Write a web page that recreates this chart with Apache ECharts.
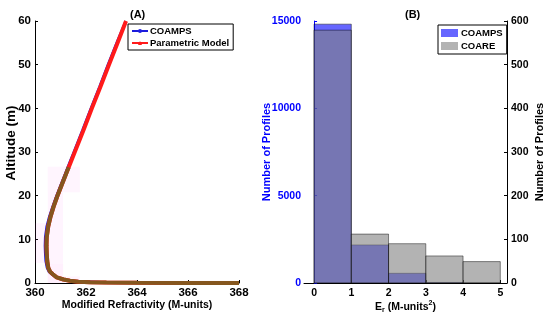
<!DOCTYPE html>
<html>
<head>
<meta charset="utf-8">
<script src="https://cdn.jsdelivr.net/npm/echarts@6/dist/echarts.min.js"></script>
<style>html,body{margin:0;padding:0;background:#fff}#c{width:550px;height:321px}</style>
</head>
<body>
<div id="c"></div>
<script>
// ---------- Panel A data ----------
var altitudeParam = [0, 0.02, 0.05, 0.1, 0.16, 0.3, 0.53, 0.8, 1.3, 2.0, 2.6, 3.5, 5, 6.8, 8.5, 10.5, 13, 15.2, 17.5, 19.8, 22.5, 25, 27.5, 30, 35, 40, 45, 50, 55, 60];
var paramM = [368.0, 366.0, 364.0, 362.8, 362.16, 361.7, 361.37, 361.12, 360.85, 360.7, 360.59, 360.52, 360.48, 360.46, 360.45, 360.46, 360.52, 360.61, 360.73, 360.87, 361.05, 361.22, 361.39, 361.56, 361.9, 362.23, 362.57, 362.9, 363.24, 363.57];
var altitudeCoamps = [0, 0.05, 0.12, 0.28, 0.53, 0.8, 1.3, 2.0, 2.6, 3.5, 5, 6.8, 8.5, 10.5, 13, 15.2, 17.5, 19.8, 22.5, 25, 27.5, 30, 35, 40, 45, 50, 55, 60];
var coampsM = [368.0, 364.0, 362.9, 362.45, 361.35, 361.08, 360.8, 360.64, 360.53, 360.46, 360.41, 360.39, 360.38, 360.39, 360.45, 360.55, 360.68, 360.82, 361.0, 361.17, 361.34, 361.51, 361.85, 362.18, 362.52, 362.85, 363.19, 363.55];
var altitudeLower = [0, 0.02, 0.05, 0.1, 0.16, 0.3, 0.53, 0.8, 1.3, 2.0, 2.6, 3.5, 5, 6.8, 8.5, 10.5, 13, 15.2, 17.5, 19.8, 22.5, 25, 26.5];
var lowerM = [368.0, 366.0, 364.0, 362.8, 362.16, 361.7, 361.37, 361.12, 360.85, 360.7, 360.59, 360.52, 360.48, 360.46, 360.45, 360.46, 360.52, 360.61, 360.73, 360.87, 361.05, 361.22, 361.32];
// density shading blocks: [M0, z0, M1, z1, strength]
var densityBlocks = [
  [360.5, 20.8, 361.76, 26.6, 0.05],
  [360.5, 4.5, 361.1, 20.8, 0.06],
  [360.0, 4.6, 360.5, 13.7, 0.06],
  [360.5, 0, 361.1, 4.5, 0.08],
  [361.1, 0, 361.76, 1.5, 0.06],
  [361.76, 0, 368, 0.6, 0.03]
];
var xTicksA = [360, 362, 364, 366, 368];

// ---------- Panel B data ----------
var binStarts = [0, 1, 2, 3, 4];
var binEnds = [1, 2, 3, 4, 5];
var coampsCounts = [14820, 2180, 555, 30, 5];
var coareCounts = [579, 112, 90, 62, 49];
var xTicksB = [0, 1, 2, 3, 4, 5];

function pairs(xs, ys) { return xs.map(function (x, i) { return [ys[i], x]; }); }
function bins(counts) { return counts.map(function (c, i) { return [binStarts[i], binEnds[i], c]; }); }

var FONT = '"Liberation Sans", Arial, Helvetica, sans-serif';

function rectRender(params, api) {
  var p0 = api.coord([api.value(0), api.value(2)]);
  var p1 = api.coord([api.value(1), 0]);
  return {
    type: 'rect',
    shape: { x: p0[0], y: p0[1], width: p1[0] - p0[0], height: p1[1] - p0[1] },
    style: api.style()
  };
}

var chart = echarts.init(document.getElementById('c'), null, { renderer: 'canvas' });
chart.setOption({
  animation: false,
  backgroundColor: '#fff',
  textStyle: { fontFamily: FONT },
  title: [
    { text: '(A)', left: 125, top: 4, textStyle: { fontFamily: FONT, fontSize: 11, fontWeight: 'bold', color: '#000' } },
    { text: '(B)', left: 400, top: 4, textStyle: { fontFamily: FONT, fontSize: 11, fontWeight: 'bold', color: '#000' } }
  ],
  legend: [
    {
      data: ['COAMPS', 'Parametric Model'],
      orient: 'vertical', left: 128, top: 24,
      borderColor: '#000', borderWidth: 1, padding: [2, 4, 2, 3],
      itemGap: 2, itemWidth: 16, itemHeight: 5,
      textStyle: { fontFamily: FONT, fontSize: 9.5, fontWeight: 'bold', color: '#000', padding: [0, 0, 0, -3] },
      backgroundColor: '#fff'
    },
    {
      data: [
        { name: 'COAMPS ', icon: 'rect', itemStyle: { color: 'rgba(0,0,255,0.6)', borderWidth: 0 } },
        { name: 'COARE', icon: 'rect', itemStyle: { color: 'rgba(128,128,128,0.6)', borderWidth: 0 } }
      ],
      formatter: function (n) { return n.trim(); },
      orient: 'vertical', left: 438, top: 25,
      borderColor: '#000', borderWidth: 1, padding: [3, 4, 3, 3],
      itemGap: 3, itemWidth: 17, itemHeight: 8,
      textStyle: { fontFamily: FONT, fontSize: 9.5, fontWeight: 'bold', color: '#000', padding: [0, 0, 0, -2] },
      backgroundColor: '#fff'
    }
  ],
  grid: [
    { left: 35, right: 311, top: 21, bottom: 38 },
    { left: 304, right: 43, top: 21, bottom: 38 }
  ],
  xAxis: [
    {
      gridIndex: 0, type: 'value', min: 360, max: 368, interval: 2,
      axisLine: { show: true, lineStyle: { color: '#000', width: 1 } },
      axisTick: { show: true, inside: true, length: 3, lineStyle: { color: '#000' } },
      axisLabel: { fontFamily: FONT, fontSize: 11.5, fontWeight: 'bold', color: '#000', margin: 4 },
      splitLine: { show: false },
      name: 'Modified Refractivity (M-units)', nameLocation: 'middle', nameGap: 17, nameMoveOverlap: false,
      nameTextStyle: { fontFamily: FONT, fontSize: 10.5, fontWeight: 'bold', color: '#000' }
    },
    {
      gridIndex: 1, type: 'value', min: -0.27, max: 5.18,
      axisLine: { show: true, lineStyle: { color: '#000', width: 1 } },
      axisTick: { show: true, inside: true, length: 3, customValues: xTicksB, lineStyle: { color: '#000' } },
      axisLabel: { fontFamily: FONT, fontSize: 10.5, fontWeight: 'bold', color: '#000', margin: 5, customValues: xTicksB },
      splitLine: { show: false },
      name: 'E{sub|r} (M-units{sup|2})', nameLocation: 'middle', nameGap: 17, nameMoveOverlap: false,
      nameTextStyle: {
        fontFamily: FONT, fontSize: 10.5, fontWeight: 'bold', color: '#000',
        rich: {
          sub: { fontFamily: FONT, fontSize: 7, fontWeight: 'bold', color: '#000', padding: [7, 0, 0, 0] },
          sup: { fontFamily: FONT, fontSize: 7, fontWeight: 'bold', color: '#000', padding: [0, 0, 7, 0] }
        }
      }
    }
  ],
  yAxis: [
    {
      gridIndex: 0, type: 'value', min: 0, max: 60, interval: 10,
      axisLine: { show: true, lineStyle: { color: '#000', width: 1 } },
      axisTick: { show: true, inside: true, length: 3, lineStyle: { color: '#000' } },
      axisLabel: { fontFamily: FONT, fontSize: 11.5, fontWeight: 'bold', color: '#000', margin: 4 },
      splitLine: { show: false },
      name: 'Altitude (m)', nameLocation: 'middle', nameGap: 17, nameRotate: 90, nameMoveOverlap: false,
      nameTextStyle: { fontFamily: FONT, fontSize: 13.5, fontWeight: 'bold', color: '#000', padding: [0, 0, 0, 18] }
    },
    {
      gridIndex: 1, type: 'value', min: 0, max: 15000, interval: 5000, position: 'left',
      axisLine: { show: true, lineStyle: { color: '#0000ff', width: 1 } },
      axisTick: { show: true, inside: true, length: 3, lineStyle: { color: '#0000ff' } },
      axisLabel: { fontFamily: FONT, fontSize: 10.5, fontWeight: 'bold', color: '#0000ff', margin: 3, formatter: function (v) { return String(v); } },
      splitLine: { show: false },
      name: 'Number of Profiles', nameLocation: 'middle', nameGap: 32, nameRotate: 90, nameMoveOverlap: false,
      nameTextStyle: { fontFamily: FONT, fontSize: 11, fontWeight: 'bold', color: '#0000ff' }
    },
    {
      gridIndex: 1, type: 'value', min: 0, max: 600, interval: 100, position: 'right',
      axisLine: { show: true, lineStyle: { color: '#000', width: 1 } },
      axisTick: { show: true, inside: true, length: 3, lineStyle: { color: '#000' } },
      axisLabel: { fontFamily: FONT, fontSize: 10.5, fontWeight: 'bold', color: '#000', margin: 4 },
      splitLine: { show: false },
      name: 'Number of Profiles', nameLocation: 'middle', nameGap: 27, nameRotate: 90, nameMoveOverlap: false,
      nameTextStyle: { fontFamily: FONT, fontSize: 11, fontWeight: 'bold', color: '#000' }
    }
  ],
  series: [
    {
      name: 'density', type: 'line', xAxisIndex: 0, yAxisIndex: 0, data: [], silent: true,
      markArea: {
        silent: true,
        data: densityBlocks.map(function (b) {
          return [
            { coord: [b[0], b[1]], itemStyle: { color: 'rgba(250,60,230,' + b[4] + ')' } },
            { coord: [b[2], b[3]] }
          ];
        })
      }
    },
    {
      name: 'COAMPS', type: 'line', xAxisIndex: 0, yAxisIndex: 0,
      data: pairs(altitudeCoamps, coampsM),
      symbol: 'circle', symbolSize: 4, showSymbol: false,
      lineStyle: { color: '#1a1adc', width: 2 }, itemStyle: { color: '#2020e0' }, z: 2
    },
    {
      name: 'Parametric Model', type: 'line', xAxisIndex: 0, yAxisIndex: 0,
      data: pairs(altitudeParam, paramM),
      symbol: 'triangle', symbolSize: 4, showSymbol: false,
      lineStyle: { color: '#ff1a1a', width: 4 }, itemStyle: { color: '#ff1a1a' }, z: 3
    },
    {
      name: 'lower', type: 'line', xAxisIndex: 0, yAxisIndex: 0,
      data: pairs(altitudeLower, lowerM),
      symbol: 'none',
      lineStyle: { color: '#85561e', width: 4 }, z: 4
    },
    {
      name: 'COAMPS ', type: 'custom', xAxisIndex: 1, yAxisIndex: 1,
      data: bins(coampsCounts), renderItem: rectRender,
      encode: { x: [0, 1], y: 2 },
      itemStyle: { color: 'rgba(0,0,255,0.6)', borderColor: 'rgba(0,0,0,0.75)', borderWidth: 0.6 }, z: 2
    },
    {
      name: 'COARE', type: 'custom', xAxisIndex: 1, yAxisIndex: 2,
      data: bins(coareCounts), renderItem: rectRender,
      encode: { x: [0, 1], y: 2 },
      itemStyle: { color: 'rgba(128,128,128,0.6)', borderColor: 'rgba(0,0,0,0.75)', borderWidth: 0.6 }, z: 3
    }
  ]
});
</script>
</body>
</html>
